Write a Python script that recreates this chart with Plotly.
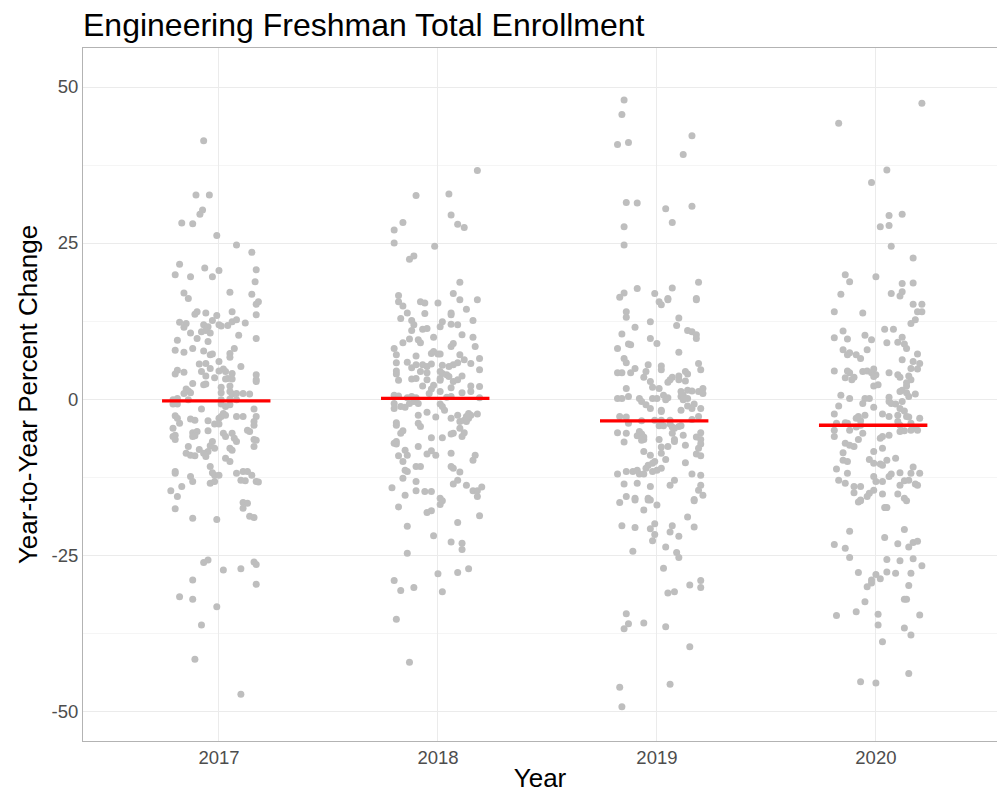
import plotly.graph_objects as go

years = [2017, 2018, 2019, 2020]
year_labels = ["2017", "2018", "2019", "2020"]
mean_change = [-0.3, 0.1, -3.5, -4.2]
y_ticks = [-50, -25, 0, 25, 50]
y_ticklabels = ["-50", "-25", "0", "25", "50"]
y_minor = [-37.5, -12.5, 12.5, 37.5]

# (jitter offset, percent change)
pts_2017 = [
    (-0.07, 41.4), (-0.105, 32.7), (-0.044, 32.7), (-0.075, 30.3), (-0.087, 29.6), (-0.17, 28.2), (-0.12, 28.1),
    (-0.01, 26.2), (0.08, 24.7), (0.15, 23.5), (-0.18, 21.6), (-0.065, 21.0), (0.00, 20.6), (0.17, 20.7),
    (-0.20, 19.9), (-0.13, 19.6), (-0.03, 19.6), (0.165, 18.8), (-0.16, 17.0), (0.05, 17.1), (0.15, 16.8), (-0.14, 16.1),
    (0.17, 15.2), (0.18, 15.6), (-0.10, 14.0), (-0.06, 13.8), (-0.11, 13.6), (-0.01, 13.4), (0.06, 14.0), (0.17, 13.5),
    (-0.18, 12.3), (-0.15, 12.1), (-0.16, 11.5), (-0.03, 12.6), (-0.07, 11.9), (-0.05, 11.6), (0.01, 11.7), (0.04, 11.8),
    (0.00, 11.9), (0.06, 12.4), (0.08, 12.7), (0.12, 12.2), (-0.13, 10.6), (-0.08, 10.8), (-0.06, 11.0), (-0.04, 10.6),
    (0.09, 10.2), (0.17, 9.7), (-0.19, 9.4), (-0.10, 9.7), (-0.05, 9.2), (-0.12, 8.1), (-0.20, 7.8), (-0.16, 7.5),
    (-0.07, 7.7), (-0.04, 7.1), (-0.03, 7.2), (0.00, 6.0), (0.05, 7.3), (0.05, 6.7), (0.07, 8.1), (-0.09, 5.6),
    (-0.06, 5.7), (-0.19, 4.6), (-0.16, 4.3), (-0.20, 4.0), (-0.08, 4.4), (-0.04, 4.9), (0.00, 4.5), (0.02, 4.8),
    (0.03, 4.4), (0.06, 4.1), (0.10, 5.2), (0.17, 3.9), (0.17, 3.1), (0.17, 2.8), (-0.06, 3.7), (-0.02, 3.4),
    (0.03, 3.2), (0.04, 3.3), (0.06, 3.2), (-0.12, 2.5), (-0.07, 2.3), (-0.06, 2.4), (0.05, 2.1), (0.01, 1.9),
    (0.05, 1.2), (-0.15, 1.6), (-0.14, 1.3), (-0.16, 0.9), (-0.13, 1.0), (0.01, 1.0), (0.06, 0.8), (0.08, 0.9),
    (0.11, 0.9), (0.14, 0.8), (-0.21, -0.1), (-0.19, 0.1), (-0.14, -0.1), (0.01, -0.1), (0.05, 0.0), (0.08, -0.1),
    (-0.21, -0.8), (-0.19, -0.8), (0.01, -0.8), (0.05, -0.9), (0.03, -1.2), (-0.08, -1.6), (0.16, -1.6), (-0.20, -2.7),
    (-0.19, -3.1), (0.02, -2.3), (0.03, -2.6), (0.00, -3.1), (0.01, -2.8), (0.08, -2.8), (0.11, -2.8), (0.17, -2.8),
    (-0.13, -3.2), (-0.11, -3.4), (-0.05, -3.5), (-0.18, -3.9), (-0.02, -4.0), (0.00, -4.0), (0.16, -3.6), (0.16, -4.2),
    (-0.21, -4.7), (-0.20, -5.8), (-0.21, -6.0), (-0.20, -6.5), (-0.12, -5.4), (-0.10, -5.2), (-0.11, -5.9), (-0.12, -6.0),
    (-0.05, -5.1), (0.02, -5.5), (0.03, -6.0), (0.06, -5.5), (0.07, -6.3), (0.08, -6.8), (0.13, -5.0), (0.14, -5.2),
    (0.16, -6.5), (0.17, -6.6), (0.16, -7.6), (-0.14, -7.6), (-0.09, -8.1), (-0.04, -7.5), (-0.03, -6.8), (-0.02, -7.9),
    (-0.05, -8.4), (-0.07, -8.7), (-0.06, -9.2), (-0.15, -8.7), (-0.13, -9.0), (-0.11, -9.1), (0.05, -7.9), (0.06, -8.2),
    (0.03, -9.5), (0.05, -10.0), (-0.04, -10.8), (-0.20, -11.6), (-0.20, -11.9), (-0.03, -11.8), (-0.02, -12.2), (0.00, -12.2),
    (-0.13, -12.4), (-0.12, -13.2), (0.08, -11.9), (0.11, -11.6), (0.13, -11.6), (0.15, -12.2), (0.10, -13.0), (0.12, -13.1),
    (0.17, -13.2), (0.18, -13.3), (-0.04, -13.5), (-0.02, -13.2), (-0.17, -14.0), (-0.22, -14.7), (-0.19, -15.6),
    (-0.20, -17.6), (-0.12, -19.1), (-0.01, -19.3), (0.11, -16.6), (0.13, -16.7), (0.11, -17.5), (0.14, -18.8), (0.16, -19.0),
    (-0.07, -26.2), (-0.05, -25.8), (0.02, -27.4), (0.10, -27.2), (0.16, -26.1), (0.17, -26.5), (-0.12, -29.0), (0.17, -29.7),
    (-0.18, -31.7), (-0.12, -32.1), (-0.01, -33.3), (-0.08, -36.2), (-0.11, -41.7), (0.10, -47.3),
]

pts_2018 = [
    (0.18, 36.6), (-0.10, 32.6), (0.05, 32.85), (-0.16, 28.3), (-0.20, 27.1), (0.06, 29.5), (0.09, 28.0), (0.12, 27.5),
    (-0.20, 25.0), (-0.015, 24.5), (-0.11, 22.9), (-0.13, 22.4), (0.10, 18.7), (0.07, 16.9), (-0.18, 16.6),
    (-0.18, 15.6), (-0.16, 14.9), (-0.08, 15.6), (-0.06, 15.4), (0.00, 15.4), (0.10, 15.9), (0.18, 15.9), (-0.14, 13.8),
    (-0.06, 13.7), (0.06, 13.8), (0.06, 13.5), (0.13, 14.4), (-0.17, 12.9), (-0.12, 12.6), (-0.11, 11.9), (-0.07, 11.2),
    (-0.05, 11.3), (0.01, 11.6), (0.02, 12.4), (0.06, 12.0), (0.09, 11.9), (0.16, 12.6), (-0.12, 11.0), (-0.16, 9.0),
    (-0.13, 9.6), (-0.09, 9.5), (-0.08, 9.0), (-0.02, 9.9), (0.06, 8.4), (0.07, 8.9), (0.11, 10.3), (0.16, 9.9),
    (-0.20, 8.1), (-0.19, 7.1), (-0.10, 6.9), (-0.03, 7.3), (-0.02, 7.6), (0.00, 7.2), (0.01, 7.2), (0.10, 7.1),
    (0.17, 8.4), (-0.19, 5.8), (-0.14, 5.9), (-0.12, 5.0), (-0.10, 5.5), (-0.07, 5.5), (-0.05, 5.2), (-0.03, 5.6),
    (0.02, 5.4), (0.05, 5.2), (0.07, 5.5), (0.09, 5.8), (0.12, 6.3), (0.15, 5.7), (0.19, 6.5), (-0.19, 4.5),
    (-0.19, 4.0), (-0.08, 4.4), (-0.05, 4.2), (0.01, 4.4), (0.02, 4.1), (0.04, 3.9), (0.05, 3.6), (0.11, 3.7),
    (0.19, 4.7), (-0.18, 3.0), (-0.12, 3.2), (-0.10, 3.3), (-0.05, 3.1), (0.01, 3.3), (0.01, 3.0), (0.07, 2.8),
    (0.09, 3.1), (-0.07, 2.1), (-0.02, 2.2), (-0.03, 1.6), (0.01, 1.2), (0.06, 1.8), (0.11, 1.0), (0.15, 2.1),
    (0.19, 2.0), (0.15, 1.2), (-0.20, 0.6), (-0.18, 0.5), (-0.14, 0.2), (-0.12, 0.4), (-0.10, 0.2), (-0.04, 0.9),
    (0.04, 0.3), (0.06, 0.4), (0.19, 0.2), (-0.20, -0.7), (-0.20, -1.5), (-0.17, -1.2), (-0.15, -1.3), (-0.13, -0.7),
    (-0.11, -0.4), (-0.09, -0.7), (0.01, -0.8), (0.02, -1.2), (0.03, -1.8), (-0.05, -2.1), (-0.01, -2.9), (0.06, -3.1),
    (0.09, -2.6), (0.10, -3.6), (0.12, -3.4), (0.14, -2.3), (0.15, -2.6), (0.13, -2.8), (0.18, -2.4), (0.14, -3.1),
    (0.13, -3.6), (-0.09, -2.6), (-0.09, -3.9), (-0.08, -4.4), (-0.19, -3.8), (-0.19, -4.2), (-0.16, -5.1), (-0.17, -5.5),
    (0.07, -5.5), (0.06, -5.6), (0.10, -4.7), (0.12, -5.4), (0.11, -6.0), (-0.03, -6.2), (0.02, -6.2), (-0.19, -6.8),
    (-0.19, -7.2), (-0.20, -7.1), (-0.15, -8.2), (-0.09, -7.6), (-0.03, -8.3), (-0.01, -9.0), (-0.05, -8.8), (-0.18, -9.1),
    (-0.14, -9.0), (-0.16, -10.0), (0.06, -8.7), (0.17, -9.0), (0.16, -9.8), (-0.10, -10.8), (-0.08, -10.8), (-0.15, -11.4),
    (-0.14, -11.6), (0.06, -10.8), (0.07, -11.1), (0.10, -11.7), (-0.16, -12.7), (-0.10, -13.2), (0.09, -13.0), (0.07, -13.6),
    (0.13, -13.8), (-0.21, -14.2), (-0.15, -15.4), (-0.10, -14.7), (-0.06, -14.8), (-0.03, -14.8), (0.01, -15.9), (0.16, -14.7),
    (0.18, -14.7), (0.20, -14.1), (0.18, -15.6),
    (-0.18, -17.3), (-0.05, -18.2), (-0.03, -17.9), (0.01, -16.9), (0.02, -16.3), (0.19, -18.7), (-0.14, -20.4), (0.09, -19.8),
    (-0.02, -21.9), (0.06, -22.9), (0.11, -23.1), (0.11, -24.1), (-0.14, -24.7), (0.00, -28.0), (0.09, -27.8), (0.14, -27.2),
    (-0.20, -29.1), (-0.17, -30.7), (-0.11, -30.2), (0.02, -30.9), (-0.19, -35.3), (-0.13, -42.2),
]

pts_2019 = [
    (-0.15, 47.9), (-0.16, 45.6), (-0.18, 40.8), (-0.13, 41.1), (0.16, 42.2), (0.12, 39.2), (-0.14, 31.5), (-0.09, 31.4),
    (0.04, 30.5), (0.16, 30.9), (0.07, 28.3), (-0.15, 27.6), (-0.15, 24.7), (0.19, 18.7), (-0.15, 17.0), (-0.17, 16.3),
    (-0.09, 17.7), (-0.01, 16.9), (0.07, 17.8), (0.05, 16.1), (0.18, 16.1),
    (0.01, 15.6), (0.02, 15.1), (0.05, 15.9), (0.18, 15.9), (-0.14, 14.0), (-0.14, 13.1), (-0.03, 12.4), (-0.10, 11.5),
    (0.09, 11.8), (0.10, 13.0), (-0.16, 10.4), (-0.03, 9.7), (0.00, 8.9), (0.14, 11.0), (0.16, 10.8), (0.18, 10.3),
    (0.18, 9.7), (-0.12, 8.7), (-0.13, 8.8), (-0.18, 8.1), (0.10, 7.5), (-0.15, 6.5), (-0.14, 5.8), (-0.04, 5.5),
    (0.02, 5.3), (0.02, 4.7), (-0.10, 4.9), (-0.05, 4.4), (-0.18, 4.2), (-0.16, 4.2), (-0.12, 4.2), (-0.06, 3.5),
    (-0.03, 2.8), (0.07, 3.5), (0.06, 3.1), (0.05, 2.7), (0.10, 3.7), (0.10, 3.1), (0.13, 4.4), (0.14, 4.0),
    (0.13, 2.9), (0.19, 5.7), (0.20, 4.7), (-0.14, 1.7), (-0.02, 1.9), (0.01, 1.7), (-0.18, 0.1), (-0.16, 0.1),
    (-0.13, 0.4), (-0.08, 0.1), (-0.07, -0.4), (-0.02, 0.1), (0.00, 0.1), (0.03, 0.6), (0.05, 0.2), (0.04, -0.1),
    (0.11, 1.2), (0.11, 0.4), (0.12, 0.6), (0.14, 1.4), (0.16, 1.3), (0.19, 1.2), (0.21, 1.7), (0.21, 0.9),
    (0.14, 0.1), (0.12, -0.1), (-0.05, -0.9), (-0.03, -1.5), (0.02, -1.8), (0.02, -2.0), (0.11, -1.8), (0.14, -1.1),
    (0.16, -1.5), (0.17, -0.8), (0.20, -1.5), (-0.17, -2.8), (-0.14, -2.9), (-0.07, -3.5), (-0.01, -3.4), (0.02, -3.4),
    (0.06, -3.4), (0.16, -3.3), (0.19, -2.8), (-0.13, -3.9), (0.01, -4.3), (0.03, -4.3), (0.06, -4.0), (0.07, -4.5),
    (0.08, -4.7), (0.10, -4.4), (0.11, -4.3), (-0.18, -5.4), (-0.14, -5.5), (-0.09, -5.9), (-0.08, -5.2), (-0.07, -5.6),
    (-0.06, -6.1), (-0.06, -6.5), (-0.07, -6.6), (0.01, -6.5), (0.07, -5.5), (0.08, -6.5), (0.08, -6.8), (0.12, -5.8),
    (0.18, -6.1), (0.20, -5.4), (0.20, -6.5), (0.20, -7.2), (-0.15, -6.9), (0.05, -7.6), (0.02, -7.7), (0.13, -7.4),
    (0.19, -7.9), (-0.06, -8.4), (-0.03, -9.0), (0.02, -8.7), (0.18, -8.8), (0.20, -9.1), (0.04, -9.7), (-0.01, -10.0),
    (-0.02, -10.3), (-0.04, -10.6), (0.13, -10.2), (-0.18, -12.0), (-0.14, -11.6), (-0.11, -11.6), (-0.09, -11.4), (-0.08, -12.0),
    (-0.06, -12.0), (-0.05, -11.1), (-0.02, -11.6), (0.00, -11.4), (0.02, -11.1), (0.16, -12.0), (0.20, -12.2), (-0.15, -13.6),
    (-0.09, -13.5), (-0.03, -14.0), (0.08, -13.0), (0.06, -13.8), (0.20, -13.8), (0.19, -14.6), (-0.14, -15.6), (-0.10, -15.9),
    (-0.04, -15.9), (-0.03, -16.2), (0.17, -16.1), (0.21, -15.4),
    (-0.17, -16.6), (-0.10, -16.2), (-0.04, -16.2), (0.00, -17.0), (-0.06, -17.8), (0.17, -16.3), (0.14, -18.9), (-0.16, -20.3),
    (-0.10, -20.6), (-0.03, -20.8), (-0.01, -20.0), (-0.01, -21.7), (-0.02, -22.7), (0.07, -20.3), (0.06, -21.3), (0.10, -22.0),
    (0.17, -20.5), (-0.11, -24.4), (0.04, -23.7), (0.09, -24.6), (0.10, -25.4), (0.03, -27.1), (0.15, -29.8), (0.20, -29.1),
    (0.20, -30.2), (0.05, -31.1), (0.08, -30.9), (-0.14, -34.4), (-0.13, -36.0), (-0.15, -36.8), (-0.06, -35.9), (0.04, -36.5),
    (0.15, -39.7), (-0.17, -46.2), (0.06, -45.7), (-0.16, -49.3),
]

pts_2020 = [
    (0.21, 47.4), (-0.17, 44.2), (0.05, 36.7), (-0.02, 34.7), (0.06, 29.4), (0.12, 29.6), (0.02, 27.6), (0.06, 27.8),
    (0.07, 24.5), (0.17, 22.6), (-0.14, 19.9), (-0.12, 18.8), (0.00, 19.6), (0.12, 18.5), (0.17, 18.6), (-0.16, 16.8),
    (0.07, 16.9), (0.12, 17.2), (0.11, 16.5),
    (0.17, 15.2), (0.21, 15.2), (0.19, 14.0), (0.21, 14.0), (-0.19, 14.0), (-0.06, 13.8), (0.18, 12.7), (0.16, 12.1),
    (0.04, 11.2), (0.08, 11.2), (-0.15, 10.9), (-0.19, 9.8), (-0.13, 9.6), (-0.05, 10.2), (-0.02, 9.5), (0.05, 9.0),
    (0.10, 9.1), (0.12, 9.9), (0.13, 8.8), (0.14, 8.1), (-0.15, 7.9), (-0.12, 7.4), (-0.13, 7.1), (-0.09, 7.1),
    (-0.07, 6.5), (-0.04, 7.9), (0.19, 7.2), (0.12, 6.3), (0.17, 6.0), (0.20, 5.7), (-0.19, 4.5), (-0.13, 4.5),
    (-0.12, 4.2), (-0.06, 4.4), (-0.04, 4.5), (-0.02, 4.2), (-0.01, 4.8), (0.00, 3.9), (-0.01, 3.6), (-0.14, 3.4),
    (-0.11, 3.1), (-0.10, 3.5), (0.06, 4.2), (0.10, 3.9), (0.11, 3.5), (0.16, 4.9), (0.19, 4.8), (0.15, 3.7),
    (0.16, 3.1), (-0.01, 2.1), (0.01, 2.3), (0.14, 2.1), (0.14, 2.6), (0.11, 1.2), (0.12, 1.4), (0.14, 1.0),
    (0.15, 0.4), (0.18, 0.8), (-0.16, 0.6), (-0.12, 0.1), (-0.05, 0.1), (-0.03, 0.1), (0.06, 0.3), (0.06, -0.4),
    (0.07, -0.7), (0.09, -0.8), (0.12, -0.4), (-0.17, -1.1), (-0.06, -0.7), (-0.01, -1.3), (-0.19, -2.4), (-0.08, -2.8),
    (-0.09, -3.1), (-0.05, -2.6), (0.03, -2.4), (0.06, -2.8), (0.11, -1.5), (0.10, -2.6), (0.13, -1.9), (0.14, -2.8),
    (0.15, -2.9), (0.20, -3.1), (-0.18, -3.9), (-0.14, -3.8), (-0.13, -3.9), (-0.07, -3.5), (-0.07, -4.2), (0.10, -3.6),
    (0.11, -4.2), (0.16, -3.9), (0.18, -4.7), (0.19, -5.0), (-0.19, -5.0), (-0.19, -6.0), (-0.12, -5.0), (-0.09, -4.5),
    (-0.06, -5.5), (0.11, -5.2), (0.13, -5.1), (0.16, -5.0), (0.06, -5.8), (0.03, -6.0), (0.02, -6.3), (-0.14, -7.1),
    (-0.10, -7.6), (-0.12, -7.4), (-0.08, -6.5), (0.03, -7.9), (-0.15, -8.6), (-0.01, -8.4), (-0.15, -9.8), (-0.13, -10.0),
    (-0.03, -9.7), (-0.01, -10.3), (0.02, -10.4), (0.03, -10.6), (0.05, -9.8), (0.09, -9.5), (-0.18, -11.2), (-0.13, -11.9),
    (0.06, -12.4), (0.07, -12.0), (0.11, -11.8), (0.16, -11.9), (0.17, -10.9), (0.20, -11.9), (-0.17, -13.0), (-0.14, -13.5),
    (-0.10, -14.0), (-0.07, -14.0), (-0.01, -12.4), (0.00, -13.2), (0.03, -13.2), (0.11, -13.8), (0.13, -13.1), (0.15, -13.0),
    (0.18, -13.6), (0.19, -13.8), (-0.10, -15.0), (-0.03, -15.1), (-0.01, -14.6), (0.03, -15.2), (0.10, -15.2), (0.13, -15.9),
    (-0.07, -16.2), (-0.04, -15.6),
    (-0.08, -16.5), (-0.07, -16.3), (0.04, -17.4), (0.05, -17.4), (0.14, -16.3), (-0.12, -21.2), (0.13, -20.9), (0.04, -22.2),
    (-0.19, -23.3), (-0.14, -23.9), (0.10, -23.2), (0.15, -23.7), (0.17, -23.0), (0.19, -22.8), (-0.12, -25.4), (0.05, -25.7),
    (0.11, -25.9), (0.17, -25.6), (0.21, -26.7), (-0.08, -27.8), (0.00, -28.1), (-0.02, -29.0), (-0.02, -29.5), (0.02, -28.8),
    (0.05, -27.7), (0.09, -27.9), (0.16, -27.9), (-0.04, -30.1), (0.15, -29.9), (0.13, -32.1), (0.14, -32.1), (-0.05, -32.5),
    (-0.09, -34.1), (-0.18, -34.7), (0.01, -34.5), (0.20, -34.6), (0.01, -36.2), (0.13, -36.7), (0.16, -37.8), (0.03, -38.9),
    (0.15, -44.0), (-0.07, -45.3), (0.00, -45.5),
]

groups = [pts_2017, pts_2018, pts_2019, pts_2020]
FONT = "Liberation Sans, Arial, Helvetica, sans-serif"

fig = go.Figure()
for yr, pts in zip(years, groups):
    fig.add_trace(go.Scatter(
        x=[yr + d for d, _ in pts],
        y=[v for _, v in pts],
        mode="markers",
        marker=dict(color="#bebebe", size=7, line=dict(width=0)),
        showlegend=False, hoverinfo="y",
    ))

for yr, m in zip(years, mean_change):
    fig.add_trace(go.Scatter(
        x=[yr - 0.26, yr + 0.235], y=[m, m], mode="lines",
        line=dict(color="#ff0000", width=3.4),
        showlegend=False, hoverinfo="skip",
    ))

fig.update_layout(
    width=997, height=793,
    margin=dict(l=83, r=0, t=48, b=52),
    paper_bgcolor="white", plot_bgcolor="white",
    font=dict(family=FONT),
    title=dict(text="Engineering Freshman Total Enrollment", x=83/997, xanchor="left",
               y=1 - 14/793, yanchor="top", font=dict(size=32, color="black", family=FONT)),
)
fig.update_xaxes(
    range=[2016.379, 2020.553], tickvals=years, ticktext=year_labels,
    showgrid=True, gridcolor="#ebebeb", gridwidth=1,
    showline=True, linecolor="#b3b3b3", linewidth=1, mirror=True,
    zeroline=False, ticks="", tickfont=dict(size=18.5, color="#4d4d4d"),
    title=dict(text="Year", font=dict(size=26, color="black"), standoff=7),
)
fig.update_yaxes(
    range=[-54.8, 56.25], tickvals=y_ticks, ticktext=y_ticklabels,
    showgrid=True, gridcolor="#ebebeb", gridwidth=1,
    minor=dict(tickvals=y_minor, showgrid=True, gridcolor="#f5f5f5", gridwidth=0.8),
    showline=True, linecolor="#b3b3b3", linewidth=1,
    zeroline=False, ticks="", tickfont=dict(size=18.5, color="#4d4d4d"),
    title=dict(text="Year-to-Year Percent Change", font=dict(size=26, color="black"), standoff=6),
)

fig.write_html("out.html", config={"displayModeBar": False},
               post_script="document.body.style.margin='0';")
